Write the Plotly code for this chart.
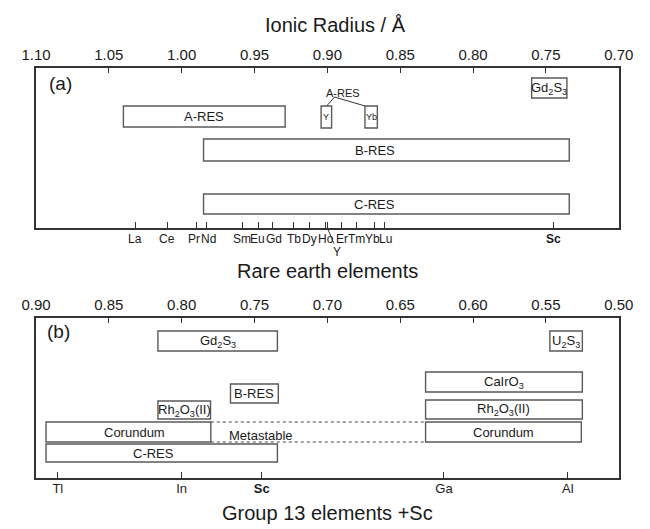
import plotly.graph_objects as go

# ---- axis ticks (ionic radius, Å) ----
top_ticks_a = [1.10, 1.05, 1.00, 0.95, 0.90, 0.85, 0.80, 0.75, 0.70]
top_ticks_b = [0.90, 0.85, 0.80, 0.75, 0.70, 0.65, 0.60, 0.55, 0.50]

# ---- rare earth elements (Shannon radii, Å) ----
re_names = ["La", "Ce", "Pr", "Nd", "Sm", "Eu", "Gd", "Tb", "Dy", "Ho",
            "Er", "Tm", "Yb", "Lu", "<b>Sc</b>"]
re_radius = [1.032, 1.010, 0.990, 0.983, 0.958, 0.947, 0.938, 0.923, 0.912,
             0.901, 0.890, 0.880, 0.868, 0.861, 0.745]
y_radius = 0.900

# ---- group 13 elements + Sc ----
g13_names = ["Tl", "In", "<b>Sc</b>", "Ga", "Al"]
g13_radius = [0.885, 0.800, 0.745, 0.620, 0.535]

# ---- panel (a): structure ranges ----
a_labels = ["A-RES", "B-RES", "C-RES", "Gd<sub>2</sub>S<sub>3</sub>", "Y", "Yb"]
a_r_start = [1.040, 0.985, 0.985, 0.7598, 0.9043, 0.8742]
a_r_end = [0.929, 0.734, 0.734, 0.7356, 0.8971, 0.8657]
a_row_low = [10.1, 6.7, 1.4, 13.0, 10.0, 10.0]
a_row_high = [12.2, 8.9, 3.4, 15.0, 12.2, 12.2]

# ---- panel (b): structure ranges ----
b_labels = ["Gd<sub>2</sub>S<sub>3</sub>", "U<sub>2</sub>S<sub>3</sub>",
            "CaIrO<sub>3</sub>", "B-RES",
            "Rh<sub>2</sub>O<sub>3</sub>(II)", "Rh<sub>2</sub>O<sub>3</sub>(II)",
            "Corundum", "Corundum", "C-RES"]
b_r_start = [0.8163, 0.5473, 0.6326, 0.7665, 0.8163, 0.6326, 0.8931, 0.6326, 0.8931]
b_r_end = [0.7343, 0.5250, 0.5250, 0.7337, 0.7802, 0.5250, 0.7800, 0.5257, 0.7343]
b_row_low = [12.7, 12.7, 8.6, 7.5, 5.9, 5.9, 3.6, 3.6, 1.6]
b_row_high = [14.7, 14.7, 10.6, 9.4, 7.7, 7.8, 5.6, 5.6, 3.4]

W, H = 650, 529
FRAME = "#333333"
BOX = "#5a5a5a"
TXT = "#1a1a1a"
SANS = "Liberation Sans, Arial, sans-serif"
ELEM_SIZE = 12

xdom = [22 / W, 633 / W]
ydom_a = [1 - 228 / H, 1 - 68 / H]
ydom_b = [1 - 478 / H, 1 - 318 / H]

fig = go.Figure()
# invisible traces so every axis pair is drawn
for xa, ya, xr in [("x", "y", 0.9), ("x3", "y", 0.9), ("x2", "y2", 0.7), ("x4", "y2", 0.7)]:
    fig.add_trace(go.Scatter(x=[xr], y=[-5], xaxis=xa, yaxis=ya, mode="markers",
                             marker=dict(opacity=0), hoverinfo="skip", showlegend=False))

top_axis = dict(side="top", ticks="inside", ticklen=5, tickwidth=1.2, tickcolor=FRAME,
                showline=True, mirror=True, linecolor=FRAME, linewidth=1.6,
                showgrid=False, zeroline=False, domain=xdom, tickangle=0,
                tickfont=dict(family=SANS, size=15, color=TXT), ticklabelstandoff=0)
bottom_axis = dict(side="bottom", ticks="inside", ticklen=6, tickwidth=1, tickcolor=FRAME,
                   showline=False, showgrid=False, zeroline=False, domain=xdom, tickangle=0,
                   tickfont=dict(family=SANS, size=13, color=TXT), ticklabelstandoff=1)
row_axis = dict(range=[0, 16], showline=True, mirror=True, linecolor=FRAME, linewidth=1.6,
                showticklabels=False, ticks="", showgrid=False, zeroline=False)

fig.update_layout(
    width=W, height=H, margin=dict(l=0, r=0, t=0, b=0),
    paper_bgcolor="white", plot_bgcolor="white", showlegend=False,
    xaxis=dict(top_axis, anchor="y", range=[1.10, 0.70], tickvals=top_ticks_a,
               ticktext=[f"{v:.2f}" for v in top_ticks_a]),
    xaxis3=dict(bottom_axis, anchor="y", overlaying="x", range=[1.10, 0.70],
                tickvals=re_radius + [y_radius], showticklabels=False),
    yaxis=dict(row_axis, domain=ydom_a, anchor="x"),
    xaxis2=dict(top_axis, anchor="y2", range=[0.90, 0.50], tickvals=top_ticks_b,
                ticktext=[f"{v:.2f}" for v in top_ticks_b]),
    xaxis4=dict(bottom_axis, anchor="y2", overlaying="x2", range=[0.90, 0.50],
                tickvals=g13_radius, ticktext=g13_names),
    yaxis2=dict(row_axis, domain=ydom_b, anchor="x2"),
)

shapes = []
annots = []

# rare-earth element names under their ticks; crowded neighbours are nudged apart
nudge_px = {"Pr": -2, "Nd": 2, "Sm": -1, "Eu": -1, "Gd": 1.5, "Yb": -1.5, "Lu": 1.5}
for name, r in zip(re_names, re_radius):
    annots.append(dict(x=r, y=0, xref="x", yref="y", text=name, showarrow=False,
                       xanchor="center", yanchor="top", yshift=-2,
                       xshift=nudge_px.get(name, 0),
                       font=dict(family=SANS, size=ELEM_SIZE, color=TXT)))


def add_boxes(labels, r0, r1, lo, hi, xref, yref, label_x=None, sizes=None):
    for i, lab in enumerate(labels):
        shapes.append(dict(type="rect", xref=xref, yref=yref, x0=r0[i], x1=r1[i],
                           y0=lo[i], y1=hi[i], line=dict(color=BOX, width=1.4),
                           fillcolor="white", layer="above"))
        cx = (r0[i] + r1[i]) / 2 if not label_x or label_x[i] is None else label_x[i]
        fs = 13 if not sizes else sizes[i]
        annots.append(dict(x=cx, y=(lo[i] + hi[i]) / 2, xref=xref, yref=yref,
                           text=lab, showarrow=False,
                           font=dict(family=SANS, size=fs, color=TXT)))


add_boxes(a_labels, a_r_start, a_r_end, a_row_low, a_row_high, "x", "y",
          label_x=[None, 0.8676, 0.8676, None, None, None],
          sizes=[13, 13, 13, 13, 9, 9])
add_boxes(b_labels, b_r_start, b_r_end, b_row_low, b_row_high, "x2", "y2",
          label_x=[None, None, None, None, None, None, 0.8327, None, 0.8196])

# A-RES note for Y and Yb
apex_r, apex_row = 0.8951, 13.1
annots.append(dict(x=0.8892, y=13.5, xref="x", yref="y", text="A-RES", showarrow=False,
                   font=dict(family=SANS, size=11, color=TXT)))
for end_r in [y_radius + 0.0005, a_r_start[5]]:
    shapes.append(dict(type="line", xref="x", yref="y", x0=apex_r, y0=apex_row,
                       x1=end_r, y1=a_row_high[4], line=dict(color=FRAME, width=1)))

# Y label below the axis, offset from Ho
annots.append(dict(x=y_radius, y=0, xref="x", yref="y", text="Y", showarrow=True,
                   arrowhead=0, arrowwidth=1, arrowcolor=FRAME, ax=10, ay=24,
                   font=dict(family=SANS, size=ELEM_SIZE, color=TXT)))

# metastable extension of corundum between the two ranges
for row in [b_row_high[6], b_row_low[6]]:
    shapes.append(dict(type="line", xref="x2", yref="y2", x0=b_r_end[6], x1=b_r_start[7],
                       y0=row, y1=row, line=dict(color="#444", width=1, dash="dot")))
annots.append(dict(x=0.7455, y=4.3, xref="x2", yref="y2", text="Metastable",
                   showarrow=False, font=dict(family=SANS, size=13, color=TXT)))

# panel letters
annots.append(dict(x=1.083, y=14.5, xref="x", yref="y", text="(a)",
                   showarrow=False, font=dict(family=SANS, size=19, color=TXT)))
annots.append(dict(x=0.8845, y=14.7, xref="x2", yref="y2", text="(b)",
                   showarrow=False, font=dict(family=SANS, size=19, color=TXT)))

# axis titles
for text, xc, yc in [("Ionic Radius / Å", 336, 25),
                     ("Rare earth elements", 328, 271),
                     ("Group 13 elements +Sc", 328, 513)]:
    annots.append(dict(x=xc / W, y=1 - yc / H, xref="paper", yref="paper", text=text,
                       showarrow=False, xanchor="center", yanchor="middle",
                       font=dict(family=SANS, size=20, color=TXT)))

fig.update_layout(shapes=shapes, annotations=annots)
fig.write_html("out.html")
